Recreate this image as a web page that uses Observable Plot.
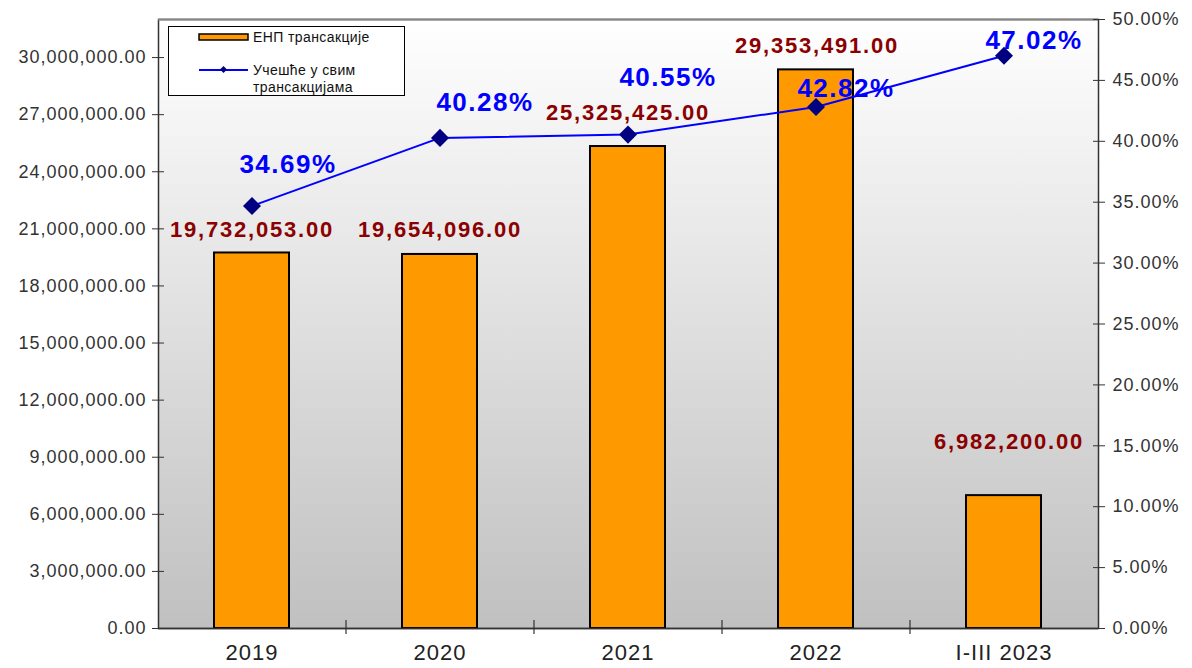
<!DOCTYPE html>
<html>
<head>
<meta charset="utf-8">
<script src="https://cdn.jsdelivr.net/npm/d3@7"></script>
<script src="https://cdn.jsdelivr.net/npm/@observablehq/plot@0.6"></script>
<style>
  html, body { margin: 0; padding: 0; background: white; }
  #wrap { position: relative; width: 1192px; height: 668px; font-family: "Liberation Sans", Arial, sans-serif; }
  #legend { position: absolute; left: 168px; top: 26px; width: 235px; height: 68px; border: 1px solid #000; background: #fff; }
  #legend svg { display: block; }
</style>
</head>
<body>
<div id="wrap"><div id="chart"></div><div id="legend"></div></div>
<script>
// ---- data ----
const categories = ["2019", "2020", "2021", "2022", "I-III 2023"];
const values = [19732053, 19654096, 25325425, 29353491, 6982200];
const shares = [0.3469, 0.4028, 0.4055, 0.4282, 0.4702];
const leftTicks = [0, 3e6, 6e6, 9e6, 12e6, 15e6, 18e6, 21e6, 24e6, 27e6, 30e6];
const rightTicks = [0, 0.05, 0.10, 0.15, 0.20, 0.25, 0.30, 0.35, 0.40, 0.45, 0.50];
const seriesNames = ["ЕНП трансакције", "Учешће у свим трансакцијама"];

// ---- label offsets (styling) ----
const valueLabelOffsets = [[0, -23], [0, -25], [0, -34], [1, -24], [5, -54]];
const pctLabelOffsets = [[36, -41], [45, -35], [40, -57], [30, -18], [30, -15]];

const W = 1192, H = 668, mL = 158, mR = 94, mT = 19, mB = 40;
const yMax = 32e6;
const pctScale = yMax / 0.5; // 50% at top
const step = (W - mL - mR) / categories.length;
const frameH = H - mT - mB;

const data = categories.map((c, i) => ({cat: c, value: values[i], share: shares[i], pctY: shares[i] * pctScale}));

const fmtNum = d3.format(",.2f");
const fmtPct = d3.format(".2%");
const axisColor = "#333";

function defs() {
  const ns = "http://www.w3.org/2000/svg";
  const d = document.createElementNS(ns, "defs");
  d.innerHTML = `<linearGradient id="bg" x1="0" y1="0" x2="0" y2="1">
    <stop offset="0" stop-color="#ffffff"/><stop offset="1" stop-color="#c0c0c0"/></linearGradient>`;
  return d;
}

const marks = [
  defs,
  Plot.frame({fill: "url(#bg)", stroke: axisColor, strokeWidth: 1.5}),
  Plot.ruleY([yMax], {stroke: "#888", strokeWidth: 2}),
  Plot.barY(data, {x: "cat", y: "value", fill: "#ff9900", stroke: "#000", strokeWidth: 2}),
  Plot.ruleY([0], {stroke: axisColor, strokeWidth: 1.5}),
  // category boundary ticks
  Plot.ruleX(categories.slice(1), {x: d => d, dx: -step / 2, insetTop: frameH - 8, insetBottom: -6, stroke: axisColor, strokeWidth: 1.2}),
  Plot.line(data, {x: "cat", y: "pctY", stroke: "#0000ff", strokeWidth: 2}),
  Plot.dot(data, {x: "cat", y: "pctY", symbol: "square", rotate: 45, r: 7.2, fill: "#000080", stroke: "none"}),
  // left axis
  Plot.axisY(leftTicks, {anchor: "left", tickSize: 12, dx: 6, tickPadding: 6, tickFormat: fmtNum, fontSize: 18, fill: axisColor, stroke: axisColor, label: null}),
  // right axis
  Plot.axisY(rightTicks.map(p => p * pctScale), {anchor: "right", tickSize: 12, dx: -6, tickPadding: 8, tickFormat: v => fmtPct(v / pctScale), fontSize: 18, fill: axisColor, stroke: axisColor, label: null}),
  Plot.axisX({tickSize: 0, tickPadding: 16, fontSize: 22, fill: "#222", label: null})
];

data.forEach((d, i) => {
  marks.push(Plot.text([d], {x: "cat", y: "value", text: v => fmtNum(v.value), dx: valueLabelOffsets[i][0], dy: valueLabelOffsets[i][1],
    fill: "#8b0000", fontSize: 22, fontWeight: "bold", className: "vlab"}));
  marks.push(Plot.text([d], {x: "cat", y: "pctY", text: v => fmtPct(v.share), dx: pctLabelOffsets[i][0], dy: pctLabelOffsets[i][1],
    fill: "#0000ff", fontSize: 26, fontWeight: "bold", className: "plab"}));
});

const chart = Plot.plot({
  width: W, height: H,
  marginLeft: mL, marginRight: mR, marginTop: mT, marginBottom: mB,
  style: {fontFamily: "'Liberation Sans', Arial, sans-serif", background: "white", overflow: "visible"},
  x: {domain: categories, paddingInner: 0.6, paddingOuter: 0.3, label: null},
  y: {domain: [0, yMax], label: null},
  marks
});
document.getElementById("chart").appendChild(chart);

// letter spacing to mimic the stretched original rendering
chart.querySelectorAll("g[aria-label='y-axis tick label'] text, g[aria-label='x-axis tick label'] text").forEach(t => t.style.letterSpacing = "1px");
chart.querySelectorAll(".vlab text, g.vlab text").forEach(t => t.style.letterSpacing = "1.8px");
chart.querySelectorAll(".plab text, g.plab text").forEach(t => t.style.letterSpacing = "1.5px");

// legend
const leg = d3.select("#legend").append("svg").attr("width", 235).attr("height", 68)
  .style("font-family", "'Liberation Sans', Arial, sans-serif").style("font-size", "14px");
leg.append("rect").attr("x", 30).attr("y", 7).attr("width", 49).attr("height", 6).attr("fill", "#ff9900").attr("stroke", "#000").attr("stroke-width", 1.5);
leg.append("text").attr("x", 84).attr("y", 10).attr("dy", "0.35em").attr("fill", "#111").style("letter-spacing", "0.4px").text(seriesNames[0]);
leg.append("line").attr("x1", 30).attr("x2", 79).attr("y1", 43).attr("y2", 43).attr("stroke", "#0000ff").attr("stroke-width", 2);
leg.append("rect").attr("x", 52).attr("y", 40).attr("width", 5).attr("height", 5).attr("fill", "#000080").attr("transform", "rotate(45 54.5 42.5)");
const t2 = leg.append("text").attr("x", 84).attr("y", 43).attr("dy", "0.35em").attr("fill", "#111").style("letter-spacing", "0.4px");
t2.append("tspan").attr("x", 84).text("Учешће у свим");
t2.append("tspan").attr("x", 84).attr("dy", "1.25em").text("трансакцијама");
</script>
</body>
</html>
